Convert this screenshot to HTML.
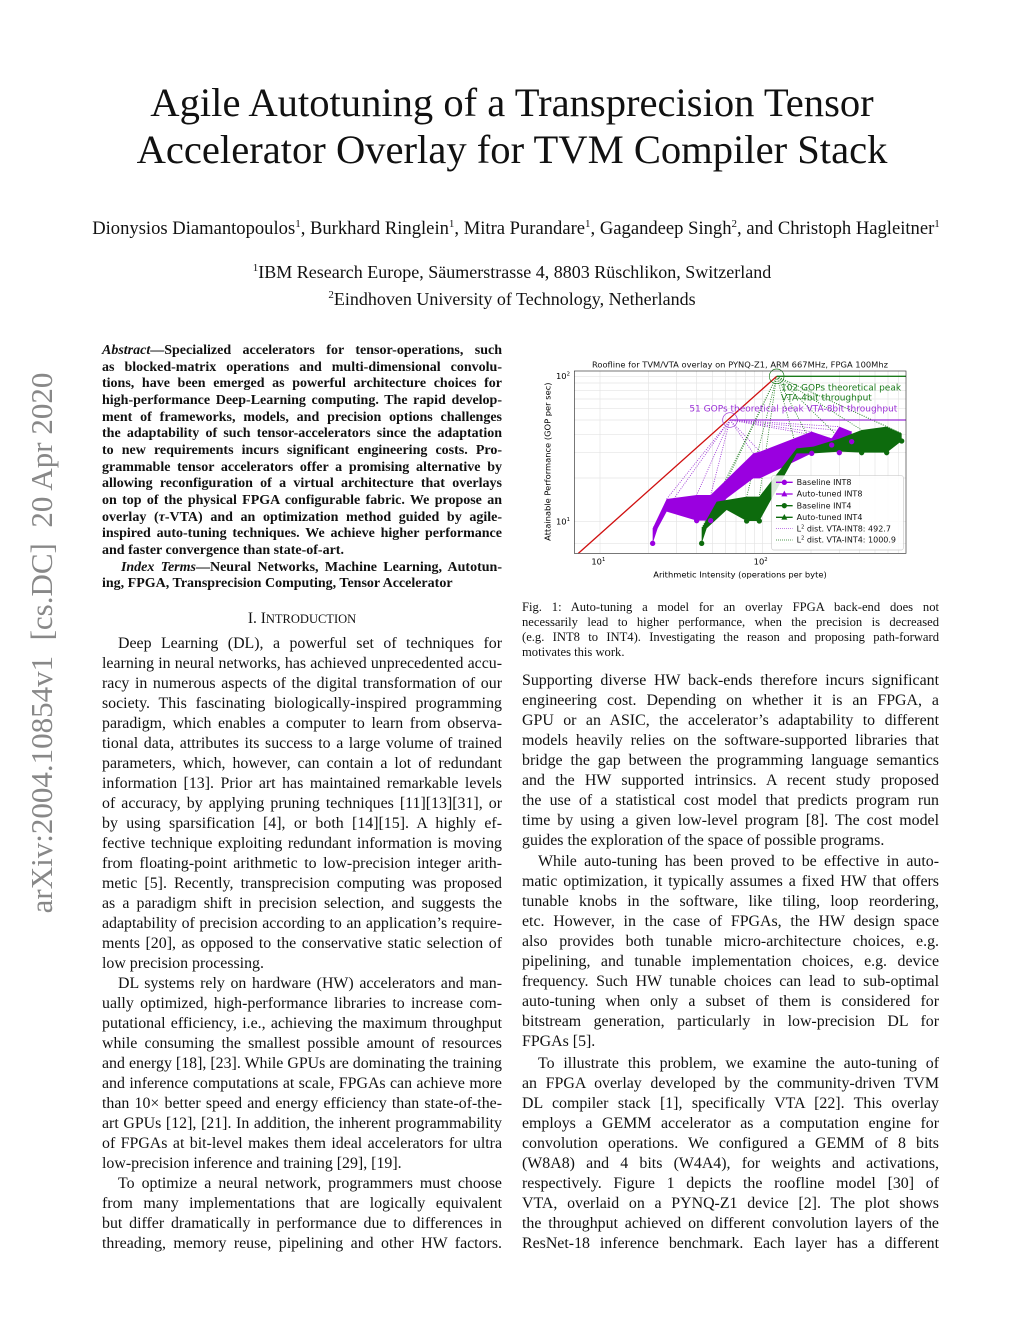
<!DOCTYPE html>
<html><head><meta charset="utf-8"><style>
body{margin:0;background:#fff;width:1024px;height:1325px;position:relative;overflow:hidden;font-family:"Liberation Serif",serif;color:#111}
.l{position:absolute;white-space:nowrap;text-align:justify;text-align-last:justify;font-size:15.9px;line-height:20px;height:20px}
.L{left:102px;width:400px}.R{left:522px;width:417px}
.i{text-indent:16px}.e{text-align-last:left}
.a{position:absolute;left:102px;width:400px;white-space:nowrap;text-align:justify;text-align-last:justify;font-size:14px;font-weight:bold;line-height:16px}
.c{position:absolute;left:522px;width:417px;white-space:nowrap;text-align:justify;text-align-last:justify;font-size:12.6px;line-height:15px}
.t{position:absolute;left:0;width:1024px;text-align:center}
</style></head><body>
<div class="t" style="top:79px;font-size:40.6px;line-height:47px">Agile Autotuning of a Transprecision Tensor<br>Accelerator Overlay for TVM Compiler Stack</div>
<div class="t" style="top:218px;font-size:18.6px;left:4px">Dionysios Diamantopoulos<sup style="font-size:11px">1</sup>, Burkhard Ringlein<sup style="font-size:11px">1</sup>, Mitra Purandare<sup style="font-size:11px">1</sup>, Gagandeep Singh<sup style="font-size:11px">2</sup>, and Christoph Hagleitner<sup style="font-size:11px">1</sup></div>
<div class="t" style="top:257px;font-size:18px;line-height:23px"><sup style="font-size:11px">1</sup>IBM Research Europe, Säumerstrasse 4, 8803 Rüschlikon, Switzerland<br><sup style="font-size:11px">2</sup>Eindhoven University of Technology, Netherlands</div>
<div style="position:absolute;left:42px;top:643px;transform:translate(-50%,-50%) rotate(-90deg);font-size:31px;color:#888;white-space:nowrap">arXiv:2004.10854v1 &nbsp;[cs.DC] &nbsp;20 Apr 2020</div>

<div class="a" style="top:343px"><i>Abstract</i>—Specialized accelerators for tensor-operations, such</div>
<div class="a" style="top:359.7px">as blocked-matrix operations and multi-dimensional convolu-</div>
<div class="a" style="top:376.3px">tions, have been emerged as powerful architecture choices for</div>
<div class="a" style="top:393px">high-performance Deep-Learning computing. The rapid develop-</div>
<div class="a" style="top:409.7px">ment of frameworks, models, and precision options challenges</div>
<div class="a" style="top:426.3px">the adaptability of such tensor-accelerators since the adaptation</div>
<div class="a" style="top:443px">to new requirements incurs significant engineering costs. Pro-</div>
<div class="a" style="top:459.7px">grammable tensor accelerators offer a promising alternative by</div>
<div class="a" style="top:476.3px">allowing reconfiguration of a virtual architecture that overlays</div>
<div class="a" style="top:493px">on top of the physical FPGA configurable fabric. We propose an</div>
<div class="a" style="top:509.7px">overlay (<i>τ</i>-VTA) and an optimization method guided by agile-</div>
<div class="a" style="top:526.3px">inspired auto-tuning techniques. We achieve higher performance</div>
<div class="a" style="top:543px;text-align-last:left">and faster convergence than state-of-art.</div>
<div class="a" style="top:560px"><i>&nbsp;&nbsp;&nbsp;Index Terms</i>—Neural Networks, Machine Learning, Autotun-</div>
<div class="a" style="top:576px;text-align-last:left">ing, FPGA, Transprecision Computing, Tensor Accelerator</div>
<div class="t" style="left:102px;width:400px;top:610px;font-size:15.5px">I. I<span style="font-size:12.5px">NTRODUCTION</span></div>

<div class="l L i" style="top:634px">Deep Learning (DL), a powerful set of techniques for</div>
<div class="l L" style="top:654px">learning in neural networks, has achieved unprecedented accu-</div>
<div class="l L" style="top:674px">racy in numerous aspects of the digital transformation of our</div>
<div class="l L" style="top:694px">society. This fascinating biologically-inspired programming</div>
<div class="l L" style="top:714px">paradigm, which enables a computer to learn from observa-</div>
<div class="l L" style="top:734px">tional data, attributes its success to a large volume of trained</div>
<div class="l L" style="top:754px">parameters, which, however, can contain a lot of redundant</div>
<div class="l L" style="top:774px">information [13]. Prior art has maintained remarkable levels</div>
<div class="l L" style="top:794px">of accuracy, by applying pruning techniques [11][13][31], or</div>
<div class="l L" style="top:814px">by using sparsification [4], or both [14][15]. A highly ef-</div>
<div class="l L" style="top:834px">fective technique exploiting redundant information is moving</div>
<div class="l L" style="top:854px">from floating-point arithmetic to low-precision integer arith-</div>
<div class="l L" style="top:874px">metic [5]. Recently, transprecision computing was proposed</div>
<div class="l L" style="top:894px">as a paradigm shift in precision selection, and suggests the</div>
<div class="l L" style="top:914px">adaptability of precision according to an application’s require-</div>
<div class="l L" style="top:934px">ments [20], as opposed to the conservative static selection of</div>
<div class="l L e" style="top:954px">low precision processing.</div>
<div class="l L i" style="top:974px">DL systems rely on hardware (HW) accelerators and man-</div>
<div class="l L" style="top:994px">ually optimized, high-performance libraries to increase com-</div>
<div class="l L" style="top:1014px">putational efficiency, i.e., achieving the maximum throughput</div>
<div class="l L" style="top:1034px">while consuming the smallest possible amount of resources</div>
<div class="l L" style="top:1054px">and energy [18], [23]. While GPUs are dominating the training</div>
<div class="l L" style="top:1074px">and inference computations at scale, FPGAs can achieve more</div>
<div class="l L" style="top:1094px">than 10× better speed and energy efficiency than state-of-the-</div>
<div class="l L" style="top:1114px">art GPUs [12], [21]. In addition, the inherent programmability</div>
<div class="l L" style="top:1134px">of FPGAs at bit-level makes them ideal accelerators for ultra</div>
<div class="l L e" style="top:1154px">low-precision inference and training [29], [19].</div>
<div class="l L i" style="top:1174px">To optimize a neural network, programmers must choose</div>
<div class="l L" style="top:1194px">from many implementations that are logically equivalent</div>
<div class="l L" style="top:1214px">but differ dramatically in performance due to differences in</div>
<div class="l L" style="top:1234px">threading, memory reuse, pipelining and other HW factors.</div>

<svg style="position:absolute;left:520px;top:355px" width="400" height="230" viewBox="0 0 1200 690" font-family="DejaVu Sans, sans-serif">
<g stroke="#e4e4e4" stroke-width="2">
<line x1="240" y1="48" x2="240" y2="595"/><line x1="727" y1="48" x2="727" y2="595"/>
<line x1="385" y1="48" x2="385" y2="595"/><line x1="470" y1="48" x2="470" y2="595"/><line x1="530" y1="48" x2="530" y2="595"/><line x1="577" y1="48" x2="577" y2="595"/><line x1="616" y1="48" x2="616" y2="595"/><line x1="648" y1="48" x2="648" y2="595"/><line x1="677" y1="48" x2="677" y2="595"/><line x1="703" y1="48" x2="703" y2="595"/><line x1="873" y1="48" x2="873" y2="595"/><line x1="958" y1="48" x2="958" y2="595"/><line x1="1018" y1="48" x2="1018" y2="595"/><line x1="1065" y1="48" x2="1065" y2="595"/><line x1="1104" y1="48" x2="1104" y2="595"/><line x1="1136" y1="48" x2="1136" y2="595"/>
<line x1="163" y1="64" x2="1158" y2="64"/><line x1="163" y1="500" x2="1158" y2="500"/>
<line x1="163" y1="369" x2="1158" y2="369"/><line x1="163" y1="292" x2="1158" y2="292"/><line x1="163" y1="238" x2="1158" y2="238"/><line x1="163" y1="195" x2="1158" y2="195"/><line x1="163" y1="161" x2="1158" y2="161"/><line x1="163" y1="132" x2="1158" y2="132"/><line x1="163" y1="106" x2="1158" y2="106"/><line x1="163" y1="84" x2="1158" y2="84"/><line x1="163" y1="566" x2="1158" y2="566"/>
</g>
<g stroke="#9a2fd6" stroke-width="2.5" stroke-dasharray="3,4" fill="none">
<path d="M630 195L398 520M630 195L440 432M630 195L530 420M630 195L572 420M630 195L700 295M630 195L720 290M630 195L875 230M630 195L935 250M630 195L958 215M630 195L995 230"/>
</g>
<g stroke="#1a7a1a" stroke-width="2.5" stroke-dasharray="3,4" fill="none">
<path d="M770 64L545 520M770 64L590 440M770 64L680 425M770 64L718 425M770 64L830 280M770 64L880 275M770 64L960 250M770 64L1025 225M770 64L1100 215M770 64L1145 235"/>
</g>
<line x1="175" y1="595" x2="770" y2="64" stroke="#d01010" stroke-width="4"/>
<line x1="630" y1="195" x2="1158" y2="195" stroke="#9a2fd6" stroke-width="4"/>
<line x1="770" y1="64" x2="1158" y2="64" stroke="#1a7a1a" stroke-width="4"/>
<circle cx="630" cy="195" r="22" fill="none" stroke="#9a2fd6" stroke-width="2"/>
<circle cx="770" cy="64" r="22" fill="none" stroke="#1a7a1a" stroke-width="2"/>
<polygon fill="#9a00e0" points="398,520 440,432 530,420 572,420 700,295 720,290 875,230 935,250 958,215 995,230 995,260 958,293 935,270 875,295 720,370 700,370 620,430 572,497 530,497 440,470 413,520 398,565"/>
<polygon fill="#0d6b0d" points="545,520 590,440 680,425 718,425 830,280 880,275 960,250 1025,225 1100,215 1145,235 1145,258 1100,293 1025,293 960,290 880,295 830,295 718,498 680,498 620,465 560,520 545,565"/>
<g fill="#9a00e0"><circle cx="398" cy="565" r="8"/><circle cx="530" cy="497" r="8"/><circle cx="572" cy="497" r="8"/><circle cx="875" cy="295" r="8"/><circle cx="958" cy="293" r="8"/><circle cx="995" cy="260" r="8"/><circle cx="935" cy="270" r="8"/></g>
<g fill="#0d6b0d"><circle cx="545" cy="565" r="8"/><circle cx="680" cy="498" r="8"/><circle cx="718" cy="498" r="8"/><circle cx="1025" cy="293" r="8"/><circle cx="1100" cy="293" r="8"/><circle cx="1145" cy="258" r="8"/></g>
<rect x="163" y="48" width="995" height="547" fill="none" stroke="#333" stroke-width="2"/>
<text x="660" y="38" font-size="25" text-anchor="middle" fill="#111">Roofline for TVM/VTA overlay on PYNQ-Z1, ARM 667MHz, FPGA 100Mhz</text>
<text x="783" y="106" font-size="27" fill="#1a7a1a">102 GOPs theoretical peak</text>
<text x="783" y="136" font-size="27" fill="#1a7a1a">VTA-4bit throughput</text>
<text x="508" y="170" font-size="27" fill="#9a2fd6">51 GOPs theoretical peak VTA-8bit throughput</text>
<text x="150" y="72" font-size="25" text-anchor="end">10<tspan font-size="16" dy="-10">2</tspan></text>
<text x="150" y="508" font-size="25" text-anchor="end">10<tspan font-size="16" dy="-10">1</tspan></text>
<text x="235" y="628" font-size="25" text-anchor="middle">10<tspan font-size="16" dy="-10">1</tspan></text>
<text x="722" y="628" font-size="25" text-anchor="middle">10<tspan font-size="16" dy="-10">2</tspan></text>
<text x="660" y="668" font-size="25" text-anchor="middle">Arithmetic Intensity (operations per byte)</text>
<text transform="translate(92,320) rotate(-90)" font-size="25" text-anchor="middle">Attainable Performance (GOP per sec)</text>
<rect x="755" y="362" width="395" height="223" rx="6" fill="#fff" fill-opacity="0.85" stroke="#ccc" stroke-width="2"/>
<g font-size="24" fill="#111">
<line x1="768" y1="382" x2="818" y2="382" stroke="#9a00e0" stroke-width="4"/><circle cx="793" cy="382" r="8" fill="#9a00e0"/><text x="830" y="390">Baseline INT8</text>
<line x1="768" y1="417" x2="818" y2="417" stroke="#9a00e0" stroke-width="4"/><polygon points="793,407 802,424 784,424" fill="#9a00e0"/><text x="830" y="425">Auto-tuned INT8</text>
<line x1="768" y1="452" x2="818" y2="452" stroke="#0d6b0d" stroke-width="4"/><circle cx="793" cy="452" r="8" fill="#0d6b0d"/><text x="830" y="460">Baseline INT4</text>
<line x1="768" y1="487" x2="818" y2="487" stroke="#0d6b0d" stroke-width="4"/><polygon points="793,477 802,494 784,494" fill="#0d6b0d"/><text x="830" y="495">Auto-tuned INT4</text>
<line x1="768" y1="521" x2="818" y2="521" stroke="#9a2fd6" stroke-width="2" stroke-dasharray="3,3"/><text x="830" y="529">L<tspan font-size="15" dy="-9">2</tspan><tspan dy="9"> dist. VTA-INT8: 492.7</tspan></text>
<line x1="768" y1="555" x2="818" y2="555" stroke="#1a7a1a" stroke-width="2" stroke-dasharray="3,3"/><text x="830" y="563">L<tspan font-size="15" dy="-9">2</tspan><tspan dy="9"> dist. VTA-INT4: 1000.9</tspan></text>
</g>
</svg>

<div class="c" style="top:600px">Fig. 1: Auto-tuning a model for an overlay FPGA back-end does not</div>
<div class="c" style="top:615px">necessarily lead to higher performance, when the precision is decreased</div>
<div class="c" style="top:630px">(e.g. INT8 to INT4). Investigating the reason and proposing path-forward</div>
<div class="c" style="top:645px;text-align-last:left">motivates this work.</div>

<div class="l R" style="top:671px">Supporting diverse HW back-ends therefore incurs significant</div>
<div class="l R" style="top:691px">engineering cost. Depending on whether it is an FPGA, a</div>
<div class="l R" style="top:711px">GPU or an ASIC, the accelerator’s adaptability to different</div>
<div class="l R" style="top:731px">models heavily relies on the software-supported libraries that</div>
<div class="l R" style="top:751px">bridge the gap between the programming language semantics</div>
<div class="l R" style="top:771px">and the HW supported intrinsics. A recent study proposed</div>
<div class="l R" style="top:791px">the use of a statistical cost model that predicts program run</div>
<div class="l R" style="top:811px">time by using a given low-level program [8]. The cost model</div>
<div class="l R e" style="top:831px">guides the exploration of the space of possible programs.</div>
<div class="l R i" style="top:852px">While auto-tuning has been proved to be effective in auto-</div>
<div class="l R" style="top:872px">matic optimization, it typically assumes a fixed HW that offers</div>
<div class="l R" style="top:892px">tunable knobs in the software, like tiling, loop reordering,</div>
<div class="l R" style="top:912px">etc. However, in the case of FPGAs, the HW design space</div>
<div class="l R" style="top:932px">also provides both tunable micro-architecture choices, e.g.</div>
<div class="l R" style="top:952px">pipelining, and tunable implementation choices, e.g. device</div>
<div class="l R" style="top:972px">frequency. Such HW tunable choices can lead to sub-optimal</div>
<div class="l R" style="top:992px">auto-tuning when only a subset of them is considered for</div>
<div class="l R" style="top:1012px">bitstream generation, particularly in low-precision DL for</div>
<div class="l R e" style="top:1032px">FPGAs [5].</div>
<div class="l R i" style="top:1054px">To illustrate this problem, we examine the auto-tuning of</div>
<div class="l R" style="top:1074px">an FPGA overlay developed by the community-driven TVM</div>
<div class="l R" style="top:1094px">DL compiler stack [1], specifically VTA [22]. This overlay</div>
<div class="l R" style="top:1114px">employs a GEMM accelerator as a computation engine for</div>
<div class="l R" style="top:1134px">convolution operations. We configured a GEMM of 8 bits</div>
<div class="l R" style="top:1154px">(W8A8) and 4 bits (W4A4), for weights and activations,</div>
<div class="l R" style="top:1174px">respectively. Figure 1 depicts the roofline model [30] of</div>
<div class="l R" style="top:1194px">VTA, overlaid on a PYNQ-Z1 device [2]. The plot shows</div>
<div class="l R" style="top:1214px">the throughput achieved on different convolution layers of the</div>
<div class="l R" style="top:1234px">ResNet-18 inference benchmark. Each layer has a different</div>
</body></html>
